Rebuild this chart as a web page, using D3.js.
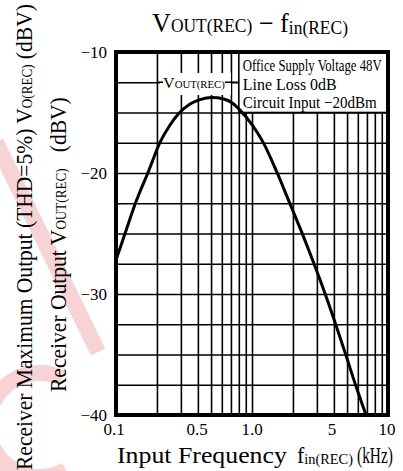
<!DOCTYPE html>
<html><head><meta charset="utf-8">
<script src="https://cdn.jsdelivr.net/npm/d3@7/dist/d3.min.js"></script>
<style>
body{margin:0;background:#fff}
svg{display:block}
text{font-family:"Liberation Serif","Times New Roman",serif;fill:#000}
</style>
</head><body>
<svg id="c" width="403" height="471"></svg>
<script>
// ---- data ----
const freqKHz = [0.1, 0.1165, 0.14, 0.175, 0.211, 0.249, 0.286, 0.35, 0.414, 0.507, 0.62, 0.713, 0.816, 1.0, 1.205, 1.527, 1.887, 2.331, 2.857, 3.442, 4.111, 4.869, 5.768, 6.889];
const voutDBV = [-27.2, -25.0, -22.4, -19.75, -17.45, -16.05, -15.15, -14.3, -13.93, -13.76, -13.88, -14.2, -14.8, -16.0, -17.45, -19.95, -22.45, -24.95, -27.5, -29.95, -32.45, -34.95, -37.5, -40.0];
const xTickValues = [0.1, 0.5, 1, 5, 10];
const xTickLabels = ["0.1", "0.5", "1.0", "5", "10"];
const yTickValues = [-10, -20, -30, -40];
const yTickLabels = ["\u221210", "\u221220", "\u221230", "\u221240"];
const xGridValues = [0.1,0.2,0.3,0.4,0.5,0.6,0.7,0.8,0.9,1,2,3,4,5,6,7,8,9,10];
const yGridValues = [-40,-37.5,-35,-32.5,-30,-27.5,-25,-22.5,-20,-17.5,-15,-12.5,-10];
const legendLines = ["Office Supply Voltage  48V", "Line Loss  0dB", "Circuit Input  \u221220dBm"];

// ---- layout ----
const L = 116, R = 388, T = 52, B = 415;
const svg = d3.select("#c");
const x = d3.scaleLog().domain([0.1, 10]).range([L, R]);
const y = d3.scaleLinear().domain([-40, -10]).range([B, T]);

// helper: place text (built at origin) and squeeze it to a target width
function place(sel, tx, ty, width, rot) {
  const w = sel.node().getComputedTextLength();
  const s = width / w;
  sel.attr("transform", `translate(${tx},${ty})${rot ? " rotate(" + rot + ")" : ""} scale(${s},1)`);
  return sel;
}

// faint watermark (reference scan)
const wm = svg.append("g").attr("fill", "none").attr("stroke", "#f6c9cc").attr("stroke-width", 16).attr("opacity", 0.8);
wm.append("path").attr("d", "M-4,142 L98,352");
wm.append("path").attr("d", "M62,378 A52,52 0 1 0 66,470");

// grid via axes
const gx = svg.append("g").attr("transform", `translate(0,${B})`)
  .call(d3.axisBottom(x).tickValues(xGridValues).tickSize(-(B - T)).tickFormat(""));
const gy = svg.append("g").attr("transform", `translate(${L},0)`)
  .call(d3.axisLeft(y).tickValues(yGridValues).tickSize(-(R - L)).tickFormat(""));
[gx, gy].forEach(g => {
  g.select(".domain").remove();
  g.selectAll("line").attr("stroke", "#000").attr("stroke-width", 1.6);
});

// legend box (white, covering grid)
svg.append("rect").attr("x", x(0.8)).attr("y", T).attr("width", R - x(0.8)).attr("height", y(-15) - T)
  .attr("fill", "#fff").attr("stroke", "#000").attr("stroke-width", 1.6);
// label patch
svg.append("rect").attr("x", x(0.2) + 3).attr("y", 73).attr("width", x(0.7) - x(0.2) - 3).attr("height", 22)
  .attr("fill", "#fff");
svg.append("line").attr("x1", x(0.2)).attr("x2", x(0.2) + 6).attr("y1", y(-12.5)).attr("y2", y(-12.5))
  .attr("stroke", "#000").attr("stroke-width", 1.6);
svg.append("line").attr("x1", x(0.7) - 6).attr("x2", x(0.8)).attr("y1", y(-12.5)).attr("y2", y(-12.5))
  .attr("stroke", "#000").attr("stroke-width", 1.6);

// curve
const line = d3.line().x((d, i) => x(freqKHz[i])).y(d => y(d)).curve(d3.curveMonotoneX);
svg.append("path").datum(voutDBV).attr("d", line)
  .attr("fill", "none").attr("stroke", "#000").attr("stroke-width", 3);

// frame
svg.append("rect").attr("x", L).attr("y", T).attr("width", R - L).attr("height", B - T)
  .attr("fill", "none").attr("stroke", "#000").attr("stroke-width", 4);

// legend text
const legBase = [71, 90, 108];
const legLen = [139, 94, 134];
legendLines.forEach((t, i) => {
  const s = svg.append("text").attr("font-size", 17).text(t);
  place(s, x(0.8) + 4, legBase[i], legLen[i]);
});

// curve label
const cl = svg.append("text");
cl.append("tspan").attr("font-size", 15).text("V");
cl.append("tspan").attr("font-size", 10).text("OUT(REC)");
place(cl, 163, 88, 62);

// y tick labels
svg.append("g").selectAll("text").data(yTickValues).join("text")
  .attr("x", 107).attr("y", d => y(d) + 6).attr("text-anchor", "end").attr("font-size", 17)
  .text((d, i) => yTickLabels[i]);

// x tick labels
const xdx = [-2, -14, 0, -15, -1];
svg.append("g").selectAll("text").data(xTickValues).join("text")
  .attr("x", (d, i) => x(d) + xdx[i]).attr("y", 435).attr("text-anchor", "middle").attr("font-size", 17)
  .text((d, i) => xTickLabels[i]);

// title
const tt = svg.append("text");
tt.append("tspan").attr("font-size", 27).text("V");
tt.append("tspan").attr("font-size", 18).text("OUT(REC)");
tt.append("tspan").attr("font-size", 27).text(" \u2212 ");
tt.append("tspan").attr("font-size", 27).text("f");
tt.append("tspan").attr("font-size", 18).attr("dy", 2).text("in(REC)");
place(tt, 152, 32, 196);

// x axis title
place(svg.append("text").attr("font-size", 23).text("Input Frequency"), 117, 463, 170);
const xf = svg.append("text");
xf.append("tspan").attr("font-size", 23).text("f");
xf.append("tspan").attr("font-size", 15).attr("dy", 1).text("in(REC)");
place(xf, 297, 463, 56);
place(svg.append("text").attr("font-size", 23).text("(kHz)"), 357, 463, 36);

// y axis titles (rotated)
const y2 = svg.append("text");
y2.append("tspan").attr("font-size", 23).text("Receiver Output V");
y2.append("tspan").attr("font-size", 14).text("OUT(REC)");
y2.append("tspan").attr("font-size", 23).attr("xml:space", "preserve").text("   (dBV)");
place(y2, 66, 392, 295, -90);

const y1 = svg.append("text");
y1.append("tspan").attr("font-size", 23).text("Receiver Maximum Output (THD=5%) V");
y1.append("tspan").attr("font-size", 14).text("O(REC)");
y1.append("tspan").attr("font-size", 23).text(" (dBV)");
place(y1, 32, 470, 466, -90);
</script>
</body></html>
